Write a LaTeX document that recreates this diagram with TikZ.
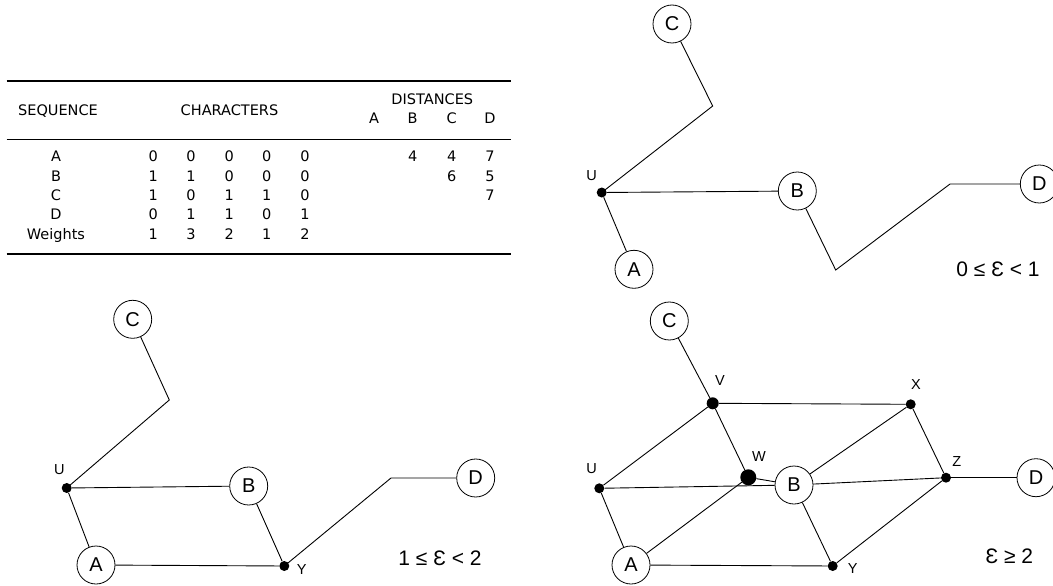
\documentclass[tikz,border=0pt]{standalone}
\usepackage{fontspec}
\setmainfont{Liberation Sans}
\newfontfamily\tabfont{DejaVu Sans}
\begin{document}
\begin{tikzpicture}[x=1pt,y=-1pt,
  tab/.style={anchor=base,inner sep=0pt,font=\tabfont\fontsize{14.5}{14.5}\selectfont},
  taxon/.style={circle,draw,line width=0.8pt,minimum size=38pt,inner sep=0pt,font=\fontsize{20}{20}\selectfont},
  dot/.style={circle,fill,inner sep=0pt,minimum size=10pt},
  bigdot/.style={circle,fill,inner sep=0pt,minimum size=16pt},
  middot/.style={circle,fill,inner sep=0pt,minimum size=12pt},
  lbl/.style={inner sep=0pt,font=\fontsize{14.5}{14.5}\selectfont},
  eps/.style={inner sep=0pt,font=\fontsize{21}{21}\selectfont},
  edge/.style={line width=0.9pt}]
\useasboundingbox (0,0) rectangle (1053,586);
% ---------------- table ----------------
\draw[line width=2pt] (6.7,81) -- (510.7,81);
\draw[line width=1pt] (6.7,139) -- (510.7,139);
\draw[line width=2pt] (6.7,254.3) -- (510.7,254.3);
\node[tab] (hseq) at (58,115) {SEQUENCE};
\node[tab] (hchar) at (229.5,115) {CHARACTERS};
\node[tab] (hdist) at (432.3,104.3) {DISTANCES};
\node[tab] (hA) at (374,124) {A};
\node[tab] (hB) at (412.7,124) {B};
\node[tab] (hC) at (451.7,124) {C};
\node[tab] (hD) at (490,124) {D};
\foreach \row/\yb/\lab/\a/\b/\c/\d/\e in {
  A/161.7/A/0/0/0/0/0,
  B/181/B/1/1/0/0/0,
  C/200.3/C/1/0/1/1/0,
  D/219.7/D/0/1/1/0/1,
  W/239/Weights/1/3/2/1/2}{
  \node[tab] (seq\row) at (56,\yb) {\lab};
  \node[tab] (ch\row a) at (153.3,\yb) {\a};
  \node[tab] (ch\row b) at (191,\yb) {\b};
  \node[tab] (ch\row c) at (229.3,\yb) {\c};
  \node[tab] (ch\row d) at (266.7,\yb) {\d};
  \node[tab] (ch\row e) at (305,\yb) {\e};
}
\node[tab] (dAB) at (412.7,161.7) {4};
\node[tab] (dAC) at (451.7,161.7) {4};
\node[tab] (dAD) at (490,161.7) {7};
\node[tab] (dBC) at (451.7,181) {6};
\node[tab] (dBD) at (490,181) {5};
\node[tab] (dCD) at (490,200.3) {7};
% ---------------- panel 1: 0 <= e < 1 ----------------
\node[taxon] (C1) at (672,24) {C};
\node[taxon] (B1) at (797.3,191) {B};
\node[taxon] (D1) at (1039.3,184) {D};
\node[taxon] (A1) at (634,269.3) {A};
\node[dot] (U1) at (601.7,192.5) {};
\node[lbl] (lU1) at (591.7,175.7) {U};
\coordinate (c1) at (712.7,106);
\coordinate (b1) at (835.7,270);
\coordinate (d1) at (950,184);
\draw[edge] (C1) -- (c1) -- (U1.center);
\draw[edge] (U1) -- (B1);
\draw[edge] (U1) -- (A1);
\draw[edge] (B1) -- (b1) -- (d1) -- (D1);
\node[eps] (e1) at (998,269) {0 ≤ Ɛ < 1};
% ---------------- panel 2: 1 <= e < 2 ----------------
\node[taxon] (C2) at (132.7,319.3) {C};
\node[taxon] (B2) at (248.7,486) {B};
\node[taxon] (A2) at (96,565) {A};
\node[taxon] (D2) at (475.7,478) {D};
\node[dot] (U2) at (66.7,488) {};
\node[dot] (Y2) at (284.3,566) {};
\node[lbl] (lU2) at (59.3,470) {U};
\node[lbl] (lY2) at (301.7,569.3) {Y};
\coordinate (c2) at (169.3,400);
\coordinate (y2) at (391,478);
\draw[edge] (C2) -- (c2) -- (U2.center);
\draw[edge] (U2) -- (B2);
\draw[edge] (U2) -- (A2);
\draw[edge] (A2) -- (Y2);
\draw[edge] (B2) -- (Y2);
\draw[edge] (Y2.center) -- (y2) -- (D2);
\node[eps] (e2) at (440,558.3) {1 ≤ Ɛ < 2};
% ---------------- panel 3: e >= 2 ----------------
\node[taxon] (C3) at (669.3,321) {C};
\node[taxon] (B3) at (794,485) {B};
\node[taxon] (D3) at (1036,477.7) {D};
\node[taxon] (A3) at (631,565) {A};
\node[middot] (V3) at (712.7,403.3) {};
\node[dot] (X3) at (910.7,404.3) {};
\node[dot] (U3) at (599.3,488.3) {};
\node[bigdot] (W3) at (748.3,477.3) {};
\node[dot] (Z3) at (946,477.7) {};
\node[dot] (Y3) at (832.7,566) {};
\node[lbl] (lV3) at (720,380.7) {V};
\node[lbl] (lX3) at (916,384.3) {X};
\node[lbl] (lU3) at (591.7,469) {U};
\node[lbl] (lW3) at (759,456.7) {W};
\node[lbl] (lZ3) at (956.7,461.3) {Z};
\node[lbl] (lY3) at (852.7,568.3) {Y};
\draw[edge] (C3) -- (V3);
\draw[edge] (V3) -- (X3);
\draw[edge] (V3) -- (U3);
\draw[edge] (V3) -- (W3);
\draw[edge] (W3) -- (B3);
\draw[edge] (U3) -- (B3);
\draw[edge] (B3) -- (Z3);
\draw[edge] (B3) -- (X3);
\draw[edge] (X3) -- (Z3);
\draw[edge] (Z3) -- (D3);
\draw[edge] (A3) -- (W3);
\draw[edge] (A3) -- (U3);
\draw[edge] (A3) -- (Y3);
\draw[edge] (B3) -- (Y3);
\draw[edge] (Y3) -- (Z3);
\node[eps] (e3) at (1009.3,556.7) {Ɛ ≥ 2};
\end{tikzpicture}
\end{document}
